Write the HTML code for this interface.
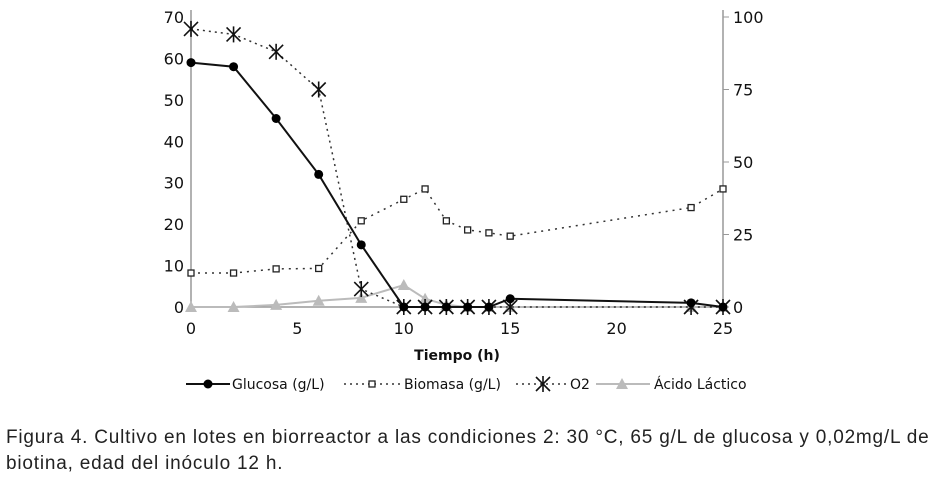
<!DOCTYPE html>
<html><head><meta charset="utf-8"><style>
body{margin:0;background:#fff;width:941px;height:481px;overflow:hidden;font-family:"Liberation Sans",sans-serif}
svg text{font-family:"DejaVu Sans","Liberation Sans",sans-serif;font-size:16px;fill:#111}
#cap{position:absolute;left:6px;top:425px;font-family:"Liberation Sans",sans-serif;font-size:19px;letter-spacing:0.8px;color:#222;line-height:26px;width:935px;white-space:nowrap}
</style></head><body>
<svg id="chart" width="941" height="420" style="position:absolute;left:0;top:0"></svg>
<div id="cap">Figura 4. Cultivo en lotes en biorreactor a las condiciones 2: 30 °C, 65 g/L de glucosa y 0,02mg/L de<br>biotina, edad del inóculo 12 h.</div>
<script>
const leftTicks=[0,10,20,30,40,50,60,70];
const rightTicks=[0,25,50,75,100];
const xTicks=[0,5,10,15,20,25];
const timeG=[0,2,4,6,8,10,11,12,13,14,15,23.5,25];
const glucosa=[59,58,45.5,32,15,0,0,0,0,0,2,1,0];
const timeB=[0,2,4,6,8,10,11,12,13,14,15,23.5,25];
const biomasa=[8.2,8.2,9.2,9.3,20.8,26,28.5,20.8,18.6,17.9,17.1,24,28.5];
const timeO=[0,2,4,6,8,10,11,12,13,14,15,23.5,25];
const o2=[95.9,94,88,75,6.2,0,0,0,0,0,0,0,0];
const timeL=[0,2,4,6,8,10,11,12,13,14,15,23.5,25];
const lactico=[0,0,0.5,1.5,2.2,5.3,2,0.5,0,0,0,0,0];
const NS="http://www.w3.org/2000/svg";
const svg=document.getElementById('chart');
const X=v=>191+v*(723-191)/25, YL=v=>307-v*290/70, YR=v=>307-v*290/100;
function el(t,a,p){const e=document.createElementNS(NS,t);for(const k in a)e.setAttribute(k,a[k]);(p||svg).appendChild(e);return e;}
let ax=el('line',{x1:191,y1:10,x2:191,y2:307,stroke:'#999','stroke-width':1.5});

ax=el('line',{x1:723,y1:10,x2:723,y2:307,stroke:'#999','stroke-width':1.5});

ax=el('line',{x1:191,y1:307,x2:723,y2:307,stroke:'#999','stroke-width':1.5});

leftTicks.forEach(v=>{const t=el('text',{x:184,y:YL(v)+6,'text-anchor':'end'});t.textContent=v;
});
rightTicks.forEach(v=>{el('line',{x1:723,x2:729,y1:YR(v),y2:YR(v),stroke:'#999'});const t=el('text',{x:733,y:YR(v)+6});t.textContent=v;
});
xTicks.forEach(v=>{const t=el('text',{x:X(v),y:334,'text-anchor':'middle'});t.textContent=v;
});
let tt=el('text',{x:457,y:360,'text-anchor':'middle','font-weight':'bold',style:'font-size:14px'});tt.textContent='Tiempo (h)';

function line(xs,ys,Y,st,name){const p=el('polyline',{points:xs.map((x,i)=>X(x)+','+Y(ys[i])).join(' '),fill:'none',...st});
}
function mark(type,cx,cy,g){
 if(type==='dot')return el('circle',{cx,cy,r:4.5,fill:'#000'},g);
 if(type==='sq')return el('rect',{x:cx-3,y:cy-3,width:6,height:6,fill:'#fff',stroke:'#222','stroke-width':1.3},g);
 if(type==='star'){const gg=el('g',{stroke:'#111','stroke-width':1.6},g);
  el('line',{x1:cx-7,y1:cy-7,x2:cx+7,y2:cy+7},gg);el('line',{x1:cx-7,y1:cy+7,x2:cx+7,y2:cy-7},gg);el('line',{x1:cx,y1:cy-8,x2:cx,y2:cy+8},gg);return gg;}
 if(type==='tri')return el('polygon',{points:`${cx},${cy-6} ${cx-6},${cy+5} ${cx+6},${cy+5}`,fill:'#bbb'},g);
}
line(timeL,lactico,YL,{stroke:'#bbb','stroke-width':2},'series-acido-lactico');
timeL.forEach((x,i)=>{const m=mark('tri',X(x),YL(lactico[i]));});
line(timeB,biomasa,YL,{stroke:'#333','stroke-width':1.5,'stroke-dasharray':'2 5'},'series-biomasa');
timeB.forEach((x,i)=>{const m=mark('sq',X(x),YL(biomasa[i]));});
line(timeO,o2,YR,{stroke:'#333','stroke-width':1.5,'stroke-dasharray':'2 4'},'series-o2');
timeO.forEach((x,i)=>{const m=mark('star',X(x),YR(o2[i]));});
line(timeG,glucosa,YL,{stroke:'#111','stroke-width':2},'series-glucosa');
timeG.forEach((x,i)=>{const m=mark('dot',X(x),YL(glucosa[i]));});
const lg=el('g',{});
function ltxt(x,s){const t=el('text',{x,y:389,style:'font-size:14px'},lg);t.textContent=s;}
el('line',{x1:186,x2:230,y1:384,y2:384,stroke:'#111','stroke-width':2},lg);mark('dot',208,384,lg);ltxt(232,'Glucosa (g/L)');
el('line',{x1:344,x2:402,y1:384,y2:384,stroke:'#333','stroke-width':1.5,'stroke-dasharray':'2 4'},lg);mark('sq',372,384,lg);ltxt(404,'Biomasa (g/L)');
el('line',{x1:516,x2:570,y1:384,y2:384,stroke:'#333','stroke-width':1.5,'stroke-dasharray':'2 4'},lg);mark('star',543,384,lg);ltxt(570,'O2');
el('line',{x1:596,x2:650,y1:384,y2:384,stroke:'#bbb','stroke-width':2},lg);mark('tri',622,384,lg);ltxt(654,'Ácido Láctico');
</script>
</body></html>
